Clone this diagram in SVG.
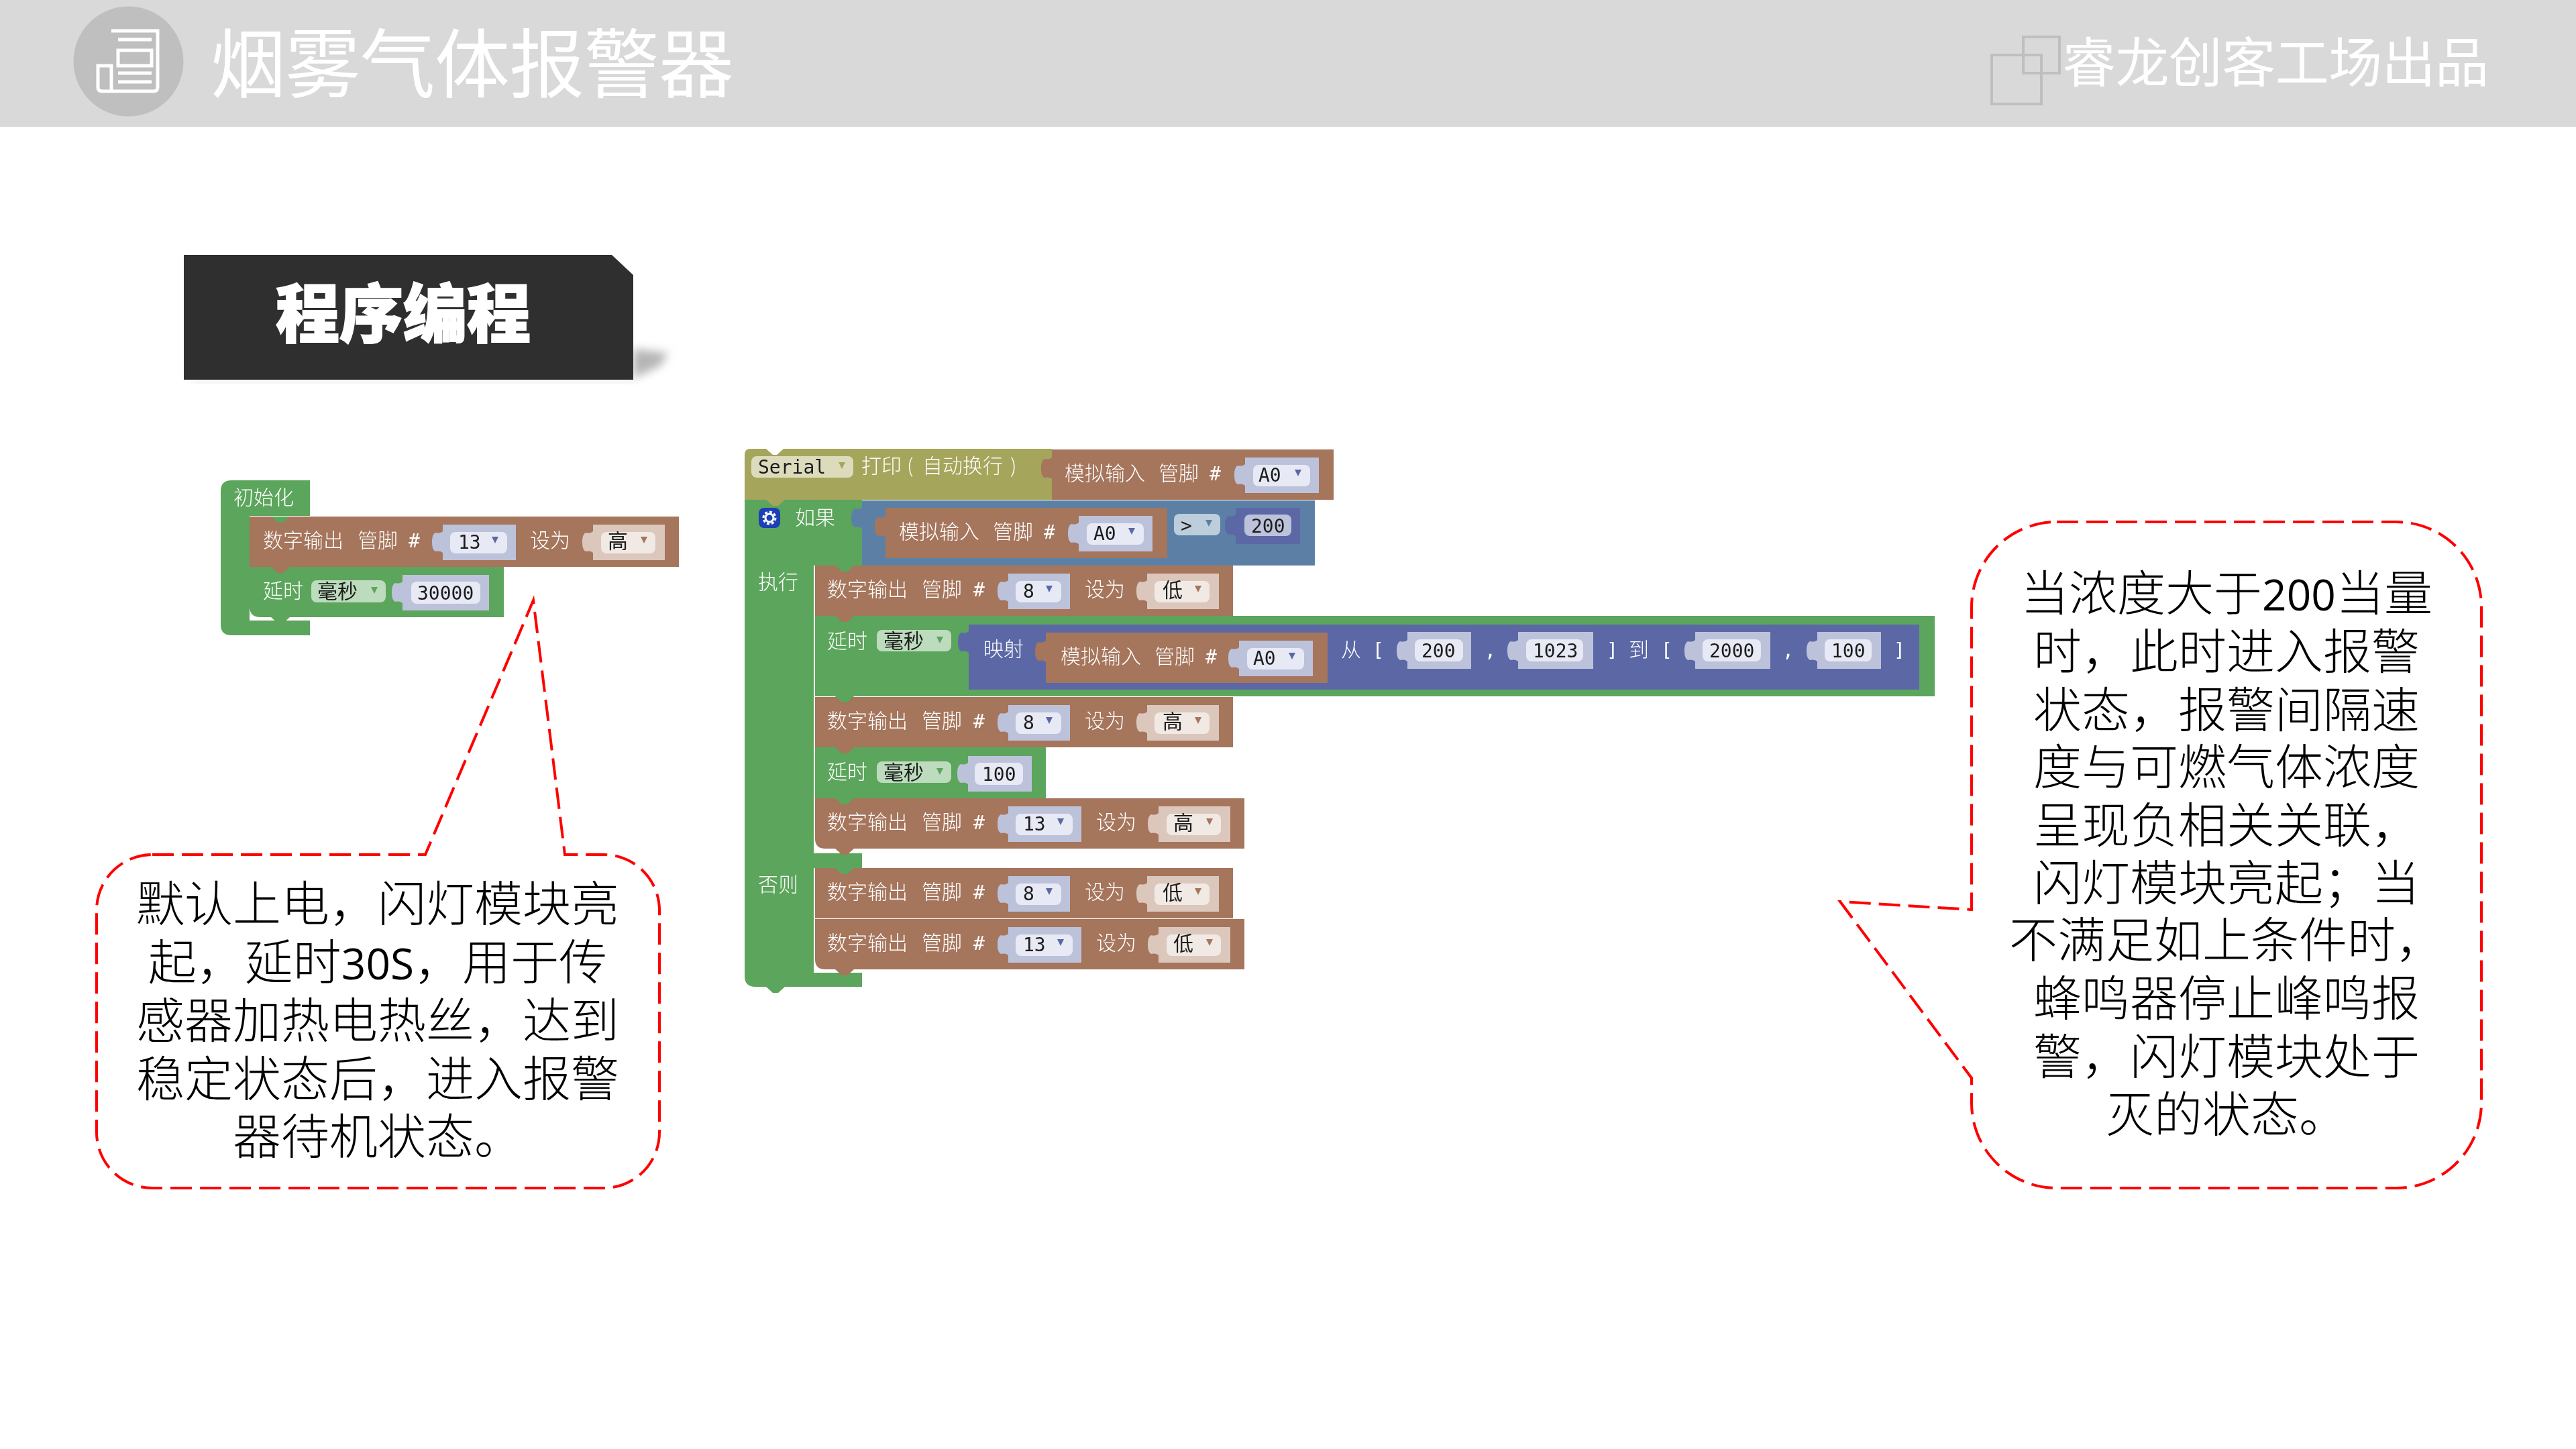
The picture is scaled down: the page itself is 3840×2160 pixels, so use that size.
<svg xmlns="http://www.w3.org/2000/svg" xmlns:xlink="http://www.w3.org/1999/xlink" width="3840" height="2160" viewBox="0 0 3840 2160">
<style>
text{font-family:"Noto Sans CJK SC","Noto Sans",sans-serif}
.w{font-size:30px;fill:#fff;font-weight:300}
.k{font-size:30px;fill:#1c1c1c}
.m{font-size:28px;fill:#1c1c1c;font-family:"DejaVu Sans Mono",monospace}
.mw{font-size:28px;fill:#fff;font-family:"DejaVu Sans Mono",monospace}
.grn{fill:#5ba55b}.brn{fill:#a5745b}.blu{fill:#5b80a5}.ind{fill:#5b67a5}.olv{fill:#a5a55b}
.f{fill:#bdc2db}.fi{fill:#e7e9f4}.b{fill:#dcc7bd}.bi{fill:#f1e9e4}.gf{fill:#bddbbd}.of{fill:#dcdcbd}.lf{fill:#bdcddb}
.callout{fill:none;stroke:#ff0000;stroke-width:4;stroke-dasharray:32 12}
.note{font-size:72px;fill:#000;font-weight:300;text-anchor:middle}
.lat{font-family:"Open Sans",sans-serif;font-size:64px;font-weight:400}
.hd{fill:#fff;font-weight:400}
</style>
<defs>
<filter id="soft" x="-2%" y="-2%" width="104%" height="104%"><feGaussianBlur stdDeviation="0.7"/></filter>
<filter id="sh" x="-30%" y="-30%" width="160%" height="160%"><feGaussianBlur stdDeviation="7"/></filter>
<path id="t" d="M0,10c-3,3-8,3-11,2c-4,2-5,8-5,14c0,6,1,12,5,14c3-1,8-1,11,2z"/>
<path id="n" d="M0,0L10,9L18,9L28,0Z"/>
<path id="dr" d="M-5-5h10l-5,10z"/>
<g id="d8">
<rect class="brn" width="623" height="75"/>
<use href="#t" x="288" y="12" class="f"/><rect class="f" x="288" y="12" width="92" height="53"/><rect class="fi" x="299" y="23" width="68" height="32" rx="8"/><use href="#dr" x="349" y="35" class="ind"/>
<use href="#t" x="495" y="12" class="b"/><rect class="b" x="495" y="12" width="107" height="53"/><rect class="bi" x="506" y="23" width="82" height="32" rx="8"/><use href="#dr" x="571" y="35" class="brn"/>
</g>
<g id="d13">
<rect class="brn" width="640" height="75"/>
<use href="#t" x="288" y="12" class="f"/><rect class="f" x="288" y="12" width="109" height="53"/><rect class="fi" x="299" y="23" width="85" height="32" rx="8"/><use href="#dr" x="366" y="35" class="ind"/>
<use href="#t" x="512" y="12" class="b"/><rect class="b" x="512" y="12" width="107" height="53"/><rect class="bi" x="524" y="23" width="81" height="32" rx="8"/><use href="#dr" x="588" y="35" class="brn"/>
</g>
<g id="ai">
<use href="#t" x="0" y="2" class="brn"/>
<rect class="brn" width="420" height="75"/>
<use href="#t" x="288" y="12" class="f"/><rect class="f" x="288" y="12" width="110" height="53"/><rect class="fi" x="300" y="23" width="85" height="32" rx="8"/><use href="#dr" x="367" y="35" class="ind"/>
</g>
</defs>

<g id="header">
<rect width="3840" height="189" fill="#d9d9d9"/>
<circle cx="191.500" cy="91.500" r="82" fill="#bfbfbf"/>
<g fill="none" stroke="#fff" stroke-width="5">
<path d="M166,46H235V130Q235,136 229,136H152Q146,136 146,130V98H166V136"/>
<path d="M176,59H226M176,75H226V98H176ZM176,109H226M176,122H226"/>
</g>
<text class="hd" x="314" y="137" font-size="112" textLength="780">烟雾气体报警器</text>
<rect x="3016" y="55" width="54" height="54" fill="none" stroke="#bfbfbf" stroke-width="4"/>
<rect x="2969" y="82" width="74" height="73" fill="none" stroke="#bfbfbf" stroke-width="4"/>
<text class="hd" x="3074" y="122" font-size="80" textLength="636">睿龙创客工场出品</text>
</g>

<g id="section-tag">
<path d="M944,520L996,526L985,545L944,564Z" fill="#b5b5b5" filter="url(#sh)"/>
<path d="M284,566H944V571H284Z" fill="#e2e2e2" filter="url(#sh)"/>
<path d="M274,380H912L944,410V566H274Z" fill="#2f2f2f"/>
<text x="411" y="503" font-size="95" font-weight="900" fill="#fff" stroke="#fff" stroke-width="2" textLength="380">程序编程</text>
</g>

<g id="init-stack" filter="url(#soft)">
<path class="grn" d="M345,716H462V769H372V925H462V947H345Q329,947 329,931V732Q329,716 345,716Z"/>
<text class="w" x="348" y="752">初始化</text>
<path class="grn" d="M372,845H751V920H388Q372,920 372,904Z"/>
<g transform="translate(372,770)"><use href="#d13"/>
<text class="w" y="46"><tspan x="20">数字输出</tspan><tspan x="161">管脚</tspan></text><text class="mw" x="237" y="46">#</text>
<text class="m" x="311" y="48">13</text><text class="w" x="418" y="46">设为</text><text class="k" x="534" y="47">高</text></g>
<text class="w" x="392" y="891">延时</text>
<rect class="gf" x="464" y="865" width="111" height="33" rx="8"/>
<text class="k" x="473" y="892">毫秒</text><use href="#dr" x="558" y="880" class="grn"/>
<use href="#t" x="600" y="857" class="f"/><rect class="f" x="600" y="857" width="129" height="53"/><rect class="fi" x="613" y="867" width="103" height="33" rx="8"/>
<text class="m" x="622" y="894">30000</text>
<use href="#n" x="404" y="770" class="grn"/><use href="#n" x="404" y="845" class="brn"/><use href="#n" x="404" y="920" class="grn"/>
</g>

<g id="main-stack" filter="url(#soft)">
<path class="grn" d="M1110,745H1285V843H1213V1272H1285V1294H1213V1450H1285V1471H1126Q1110,1471 1110,1455Z"/>
<path class="olv" d="M1119,669H1568V745H1110V678Q1110,669 1119,669Z"/>
<path d="M1142,669L1152,678L1158,678L1168,669Z" fill="#fff"/>
<rect class="of" x="1120" y="680" width="152" height="32" rx="8"/>
<text class="m" x="1130" y="706">Serial</text><use href="#dr" x="1255" y="694" class="olv"/>
<text class="w" y="705"><tspan x="1284">打印</tspan><tspan x="1352">(</tspan><tspan x="1375">自动换行</tspan><tspan x="1506">)</tspan></text>
<g transform="translate(1568,670)"><use href="#ai"/><text class="w" y="46"><tspan x="19">模拟输入</tspan><tspan x="159">管脚</tspan></text><text class="mw" x="235" y="46">#</text><text class="m" x="308" y="48">A0</text></g>

<rect x="1131" y="757" width="32" height="30" rx="8" fill="#1f3fb5"/>
<circle cx="1147" cy="772" r="9" fill="none" stroke="#fff" stroke-width="3" stroke-dasharray="4 3"/>
<circle cx="1147" cy="772" r="6" fill="none" stroke="#fff" stroke-width="3"/>
<text class="w" x="1185" y="782">如果</text>
<text class="w" x="1130" y="878">执行</text>
<text class="w" x="1130" y="1329">否则</text>
<use href="#t" x="1285" y="746" class="blu"/><rect class="blu" x="1285" y="746" width="675" height="97"/>
<g transform="translate(1320,757)"><use href="#ai"/><text class="w" y="46"><tspan x="20">模拟输入</tspan><tspan x="160">管脚</tspan></text><text class="mw" x="236" y="46">#</text><text class="m" x="310" y="48">A0</text></g>
<rect class="lf" x="1750" y="766" width="69" height="32" rx="8"/><text class="m" x="1760" y="793">&gt;</text><use href="#dr" x="1802" y="780" class="blu"/>
<use href="#t" x="1842" y="757" class="ind"/><rect class="ind" x="1842" y="757" width="96" height="54"/><rect class="f" x="1855" y="767" width="70" height="32" rx="8"/><text class="m" x="1865" y="794">200</text>

<g transform="translate(1215,843)"><use href="#d8"/><text class="w" y="46"><tspan x="18">数字输出</tspan><tspan x="159">管脚</tspan></text><text class="mw" x="236" y="46">#</text><text class="m" x="310" y="48">8</text><text class="w" x="402" y="46">设为</text><text class="k" x="518" y="47">低</text></g>

<rect class="grn" x="1215" y="918" width="1669" height="120"/>
<text class="w" x="1233" y="966">延时</text>
<rect class="gf" x="1307" y="939" width="111" height="32" rx="8"/><text class="k" x="1317" y="966">毫秒</text><use href="#dr" x="1401" y="954" class="grn"/>
<use href="#t" x="1444" y="931" class="ind"/><rect class="ind" x="1444" y="931" width="1417" height="97"/>
<text class="w" x="1466" y="978">映射</text>
<g transform="translate(1559,943)"><use href="#ai"/><text class="w" y="46"><tspan x="22">模拟输入</tspan><tspan x="162">管脚</tspan></text><text class="mw" x="238" y="46">#</text><text class="m" x="309" y="48">A0</text></g>
<text class="w" x="1999" y="979">从</text>
<text class="mw" x="2046" y="979">[</text>
<use href="#t" x="2098" y="944" class="f"/><rect class="f" x="2098" y="942" width="95" height="55"/><rect class="fi" x="2109" y="953" width="72" height="33" rx="8"/><text class="m" x="2119" y="980">200</text>
<text class="mw" x="2213" y="979">,</text>
<use href="#t" x="2263" y="944" class="f"/><rect class="f" x="2263" y="942" width="112" height="55"/><rect class="fi" x="2275" y="953" width="85" height="33" rx="8"/><text class="m" x="2285" y="980">1023</text>
<text class="mw" x="2395" y="979">]</text>
<text class="w" x="2428" y="979">到</text>
<text class="mw" x="2476" y="979">[</text>
<use href="#t" x="2527" y="944" class="f"/><rect class="f" x="2527" y="942" width="112" height="55"/><rect class="fi" x="2538" y="953" width="87" height="33" rx="8"/><text class="m" x="2548" y="980">2000</text>
<text class="mw" x="2657" y="979">,</text>
<use href="#t" x="2709" y="944" class="f"/><rect class="f" x="2709" y="942" width="95" height="55"/><rect class="fi" x="2720" y="953" width="70" height="33" rx="8"/><text class="m" x="2730" y="980">100</text>
<text class="mw" x="2823" y="979">]</text>

<g transform="translate(1215,1039)"><use href="#d8"/><text class="w" y="46"><tspan x="18">数字输出</tspan><tspan x="159">管脚</tspan></text><text class="mw" x="236" y="46">#</text><text class="m" x="310" y="48">8</text><text class="w" x="402" y="46">设为</text><text class="k" x="518" y="47">高</text></g>

<rect class="grn" x="1215" y="1114" width="344" height="76"/>
<text class="w" x="1233" y="1161">延时</text>
<rect class="gf" x="1307" y="1135" width="111" height="32" rx="8"/><text class="k" x="1317" y="1162">毫秒</text><use href="#dr" x="1401" y="1150" class="grn"/>
<use href="#t" x="1443" y="1127" class="f"/><rect class="f" x="1443" y="1127" width="95" height="53"/><rect class="fi" x="1453" y="1137" width="72" height="33" rx="8"/><text class="m" x="1464" y="1164">100</text>

<g transform="translate(1215,1190)"><use href="#d13"/><text class="w" y="46"><tspan x="18">数字输出</tspan><tspan x="159">管脚</tspan></text><text class="mw" x="236" y="46">#</text><text class="m" x="310" y="48">13</text><text class="w" x="419" y="46">设为</text><text class="k" x="534" y="47">高</text></g>

<g transform="translate(1215,1294)"><use href="#d8"/><text class="w" y="46"><tspan x="18">数字输出</tspan><tspan x="159">管脚</tspan></text><text class="mw" x="236" y="46">#</text><text class="m" x="310" y="48">8</text><text class="w" x="402" y="46">设为</text><text class="k" x="518" y="47">低</text></g>
<g transform="translate(1215,1370)"><use href="#d13"/><text class="w" y="46"><tspan x="18">数字输出</tspan><tspan x="159">管脚</tspan></text><text class="mw" x="236" y="46">#</text><text class="m" x="310" y="48">13</text><text class="w" x="419" y="46">设为</text><text class="k" x="534" y="47">低</text></g>

<path d="M1215,1250Q1215,1265 1230,1265H1215Z" fill="#fff"/>
<path d="M1215,1430Q1215,1445 1230,1445H1215Z" fill="#fff"/>
<rect x="1215" y="1265" width="70" height="7" fill="#fff"/>
<rect x="1215" y="1445" width="70" height="5" fill="#fff"/>
<use href="#n" x="1142" y="745" class="olv"/>
<use href="#n" x="1245" y="843" class="grn"/><use href="#n" x="1245" y="918" class="brn"/><use href="#n" x="1245" y="1038" class="grn"/><use href="#n" x="1245" y="1114" class="brn"/><use href="#n" x="1245" y="1190" class="grn"/><use href="#n" x="1245" y="1265" class="brn"/><use href="#n" x="1245" y="1294" class="grn"/><use href="#n" x="1245" y="1370" class="brn"/><use href="#n" x="1245" y="1445" class="brn"/><use href="#n" x="1142" y="1471" class="grn"/>
</g>

<g id="callout-left">
<path class="callout" d="M227,1274H634L795,895L842,1274H900A83,83 0 0 1 983,1357V1688A83,83 0 0 1 900,1771H227A83,83 0 0 1 144,1688V1357A83,83 0 0 1 227,1274Z"/>
<text class="note" x="563" y="1373">默认上电，闪灯模块亮</text>
<text class="note" x="563" y="1460">起，延时<tspan class="lat">30S</tspan>，用于传</text>
<text class="note" x="563" y="1547">感器加热电热丝，达到</text>
<text class="note" x="563" y="1634">稳定状态后，进入报警</text>
<text class="note" x="563" y="1720">器待机状态。</text>
</g>

<g id="callout-right">
<path class="callout" d="M3066,778H3572A127,127 0 0 1 3699,905V1644A127,127 0 0 1 3572,1771H3066A127,127 0 0 1 2939,1644V1607L2743,1344L2939,1356V905A127,127 0 0 1 3066,778Z"/>
<text class="note" x="3319" y="910">当浓度大于<tspan class="lat">200</tspan>当量</text>
<text class="note" x="3319" y="997">时，此时进入报警</text>
<text class="note" x="3319" y="1084">状态，报警间隔速</text>
<text class="note" x="3319" y="1169">度与可燃气体浓度</text>
<text class="note" x="3319" y="1256">呈现负相关关联，</text>
<text class="note" x="3319" y="1342">闪灯模块亮起；当</text>
<text class="note" x="3319" y="1427">不满足如上条件时，</text>
<text class="note" x="3319" y="1514">蜂鸣器停止峰鸣报</text>
<text class="note" x="3319" y="1601">警，闪灯模块处于</text>
<text class="note" x="3319" y="1687">灭的状态。</text>
</g>
</svg>
